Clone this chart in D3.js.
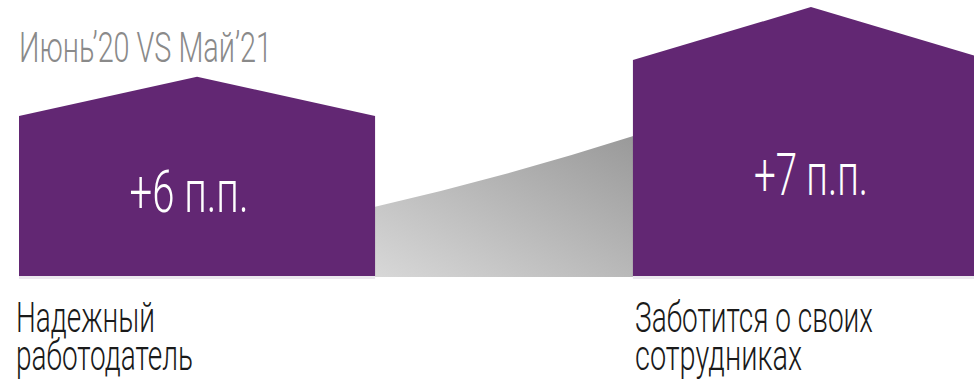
<!DOCTYPE html>
<html lang="ru">
<head>
<meta charset="UTF-8">
<title>Июнь'20 VS Май'21</title>
<script src="https://cdn.jsdelivr.net/npm/d3@7"></script>
<style>
  body { margin: 0; background: #fff; }
  svg { display: block; font-family: Roboto, sans-serif; }
  .title { fill: #8a8a8a; font-weight: 300; }
  .value { fill: #fff; font-weight: 300; }
  .label { fill: #1a1a1a; font-weight: 300; }
</style>
</head>
<body>
<svg id="chart" width="974" height="386"></svg>
<script>
// data
const title = "Июнь’20 VS Май’21";
const categories = ["Надежный работодатель", "Заботится о своих сотрудниках"];
const labelLines = [["Надежный", "работодатель"], ["Заботится о своих", "сотрудниках"]];
const values = [6, 7];
const valueLabels = ["+6 п.п.", "+7 п.п."];

// layout
const baseline = 276;
const purple = "#622773";
const roofRatio = 0.245;
// widths of the condensed face, since no condensed font is installed
const valueWidths = [119, 114];
const labelWidths = [[139, 177], [238, 167]];

const svg = d3.select("#chart");

const x = d3.scaleBand()
    .domain(categories)
    .range([19, 989])
    .paddingInner(0.42);

const y = d3.scaleLinear()
    .domain([6, 7])
    .range([116, 60]);

// gradient for the connector
const defs = svg.append("defs");
const grad = defs.append("linearGradient")
    .attr("id", "greyGrad")
    .attr("x1", 0).attr("y1", 1)
    .attr("x2", 1).attr("y2", 0);
grad.append("stop").attr("offset", "0%").attr("stop-color", "#d8d8d8");
grad.append("stop").attr("offset", "100%").attr("stop-color", "#999999");

// connector between the two houses
let x0 = x(categories[0]) + x.bandwidth(), x1 = x(categories[1]);
let h0 = baseline - y(values[0]), h1 = baseline - y(values[1]);
let yl = baseline - h0 * 0.43, yr = baseline - h1 * 0.65;
let cx = (x0 + x1) / 2, cy = (yl + yr) / 2 + 6;
svg.append("path")
    .attr("d", `M${x0 - 2},${baseline + 1} L${x0 - 2},${yl} Q${cx},${cy} ${x1 + 2},${yr} L${x1 + 2},${baseline + 1} Z`)
    .attr("fill", "url(#greyGrad)");

// soft shadow under houses
svg.selectAll("rect.shadow")
    .data(values)
    .join("rect")
    .attr("class", "shadow")
    .attr("x", (d, i) => x(categories[i]))
    .attr("y", baseline)
    .attr("width", x.bandwidth())
    .attr("height", 3)
    .attr("fill", "#ebe8ee");

// houses
function housePath(d, i) {
    let left = x(categories[i]), right = left + x.bandwidth();
    let mid = left + x.bandwidth() / 2;
    let top = y(d);
    let peak = top - (baseline - top) * roofRatio;
    return `M${left},${baseline} L${left},${top} L${mid},${peak} L${right},${top} L${right},${baseline} Z`;
}

svg.selectAll("path.house")
    .data(values)
    .join("path")
    .attr("class", "house")
    .attr("d", housePath)
    .attr("fill", purple);

// value labels
const valueY = [212, 195];
svg.selectAll("text.value")
    .data(valueLabels)
    .join("text")
    .attr("class", "value")
    .attr("x", (d, i) => x(categories[i]) + x.bandwidth() / 2 - (i === 0 ? 8 : 0))
    .attr("y", (d, i) => valueY[i])
    .attr("text-anchor", "middle")
    .attr("font-size", 59)
    .attr("textLength", (d, i) => valueWidths[i])
    .attr("lengthAdjust", "spacingAndGlyphs")
    .text(d => d);

// title
svg.append("text")
    .attr("class", "title")
    .attr("x", 19)
    .attr("y", 62)
    .attr("font-size", 42)
    .attr("textLength", 253)
    .attr("lengthAdjust", "spacingAndGlyphs")
    .text(title);

// category labels, one text per category with a tspan per line
const labelX = [16, 635];
svg.selectAll("text.label")
    .data(labelLines)
    .join("text")
    .attr("class", "label")
    .attr("font-size", 42)
    .each(function (lines, i) {
        d3.select(this).selectAll("tspan")
            .data(lines)
            .join("tspan")
            .attr("x", labelX[i])
            .attr("y", (d, j) => 332 + j * 38)
            .attr("textLength", (d, j) => labelWidths[i][j])
            .attr("lengthAdjust", "spacingAndGlyphs")
            .text(d => d);
    });
</script>
</body>
</html>
